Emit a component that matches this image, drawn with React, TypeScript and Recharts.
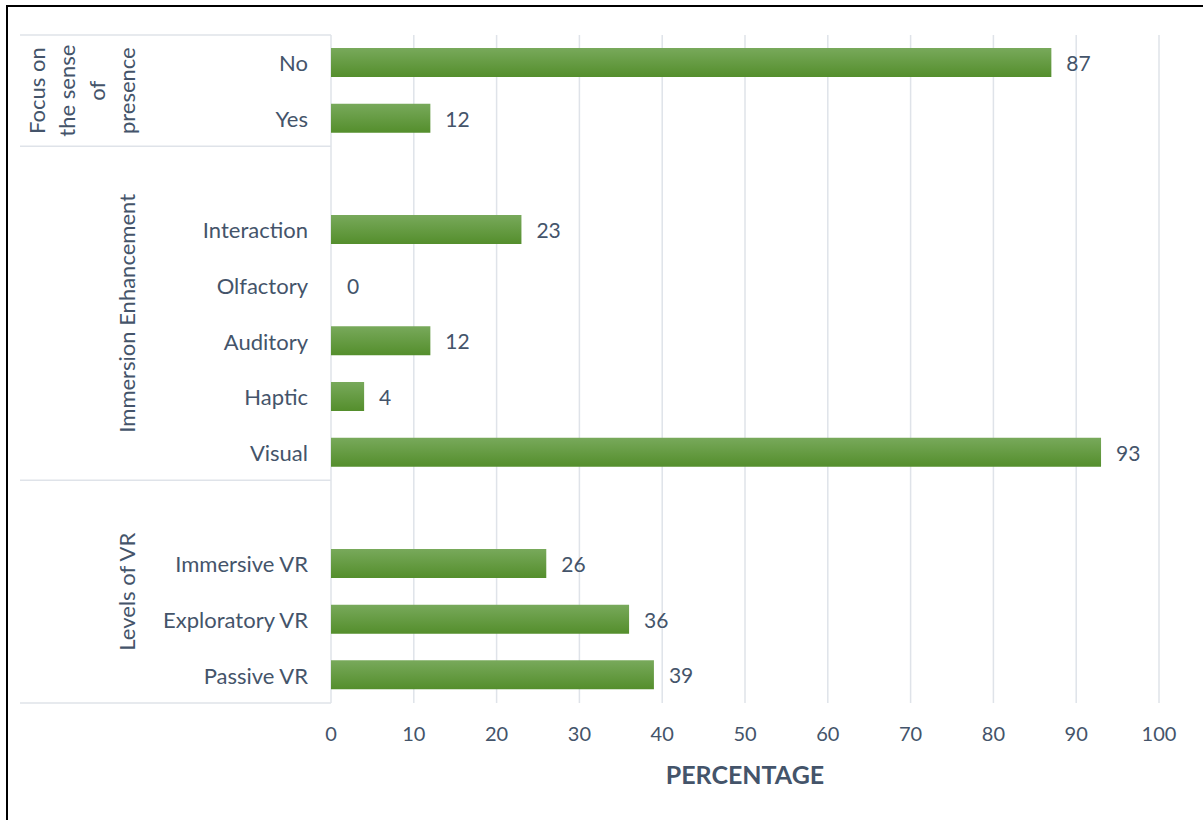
import React from 'react';
import { BarChart, Bar, Cell, XAxis, YAxis, CartesianGrid, LabelList } from 'recharts';

// slots top to bottom, '' = empty spacer slot between groups
const categories = ['No', 'Yes', '', 'Interaction', 'Olfactory', 'Auditory', 'Haptic', 'Visual', '', 'Immersive VR', 'Exploratory VR', 'Passive VR'];
const percentages = [87, 12, null, 23, 0, 12, 4, 93, null, 26, 36, 39];

const groupLabels = [['Focus on', 'the sense', 'of', 'presence'], ['Immersion Enhancement'], ['Levels of VR']];
const groupStarts = [0, 2, 8];
const groupEnds = [1, 7, 11];

const xTicks = [0, 10, 20, 30, 40, 50, 60, 70, 80, 90, 100];

const data = categories.map((name, i) => ({ key: `c${i}`, name, value: percentages[i] }));

const W = 1203;
const H = 820;
const PLOT_LEFT = 331;
const PLOT_TOP = 35;
const PLOT_RIGHT = 1159;
const PLOT_BOTTOM = 703;
const BAND = (PLOT_BOTTOM - PLOT_TOP) / categories.length;
const SEP_LEFT = 20;

const TEXT = '#44546a';
const GRID = '#dfe3e9';
const FONT = 'Lato, "Noto Sans", sans-serif';

const CategoryTick = (props: any) => {
  const { x, y, index } = props;
  const half = BAND / 2;
  const g = groupStarts.indexOf(index);
  const parts: React.ReactNode[] = [];

  if (g >= 0) {
    const groupMid = y - half + ((groupEnds[g] - groupStarts[g] + 1) * BAND) / 2;
    const lines = groupLabels[g];
    parts.push(
      <line key="sep" x1={SEP_LEFT} x2={PLOT_LEFT} y1={y - half} y2={y - half} stroke={GRID} strokeWidth={1.5} />
    );
    lines.forEach((ln, li) => {
      const lx = 127 - (lines.length - 1 - li) * 30;
      parts.push(
        <text
          key={`g${li}`}
          x={lx}
          y={groupMid}
          transform={`rotate(-90 ${lx} ${groupMid})`}
          textAnchor="middle"
          dominantBaseline="central"
          fontSize={22}
          fill={TEXT}
          fontFamily={FONT}
        >
          {ln}
        </text>
      );
    });
  }
  if (index === categories.length - 1) {
    parts.push(
      <line key="sepb" x1={SEP_LEFT} x2={PLOT_LEFT} y1={y + half} y2={y + half} stroke={GRID} strokeWidth={1.5} />
    );
  }

  return (
    <g>
      {parts}
      <text x={x} y={y} textAnchor="end" dominantBaseline="central" fontSize={22} fill={TEXT} fontFamily={FONT}>
        {categories[index]}
      </text>
    </g>
  );
};

const ValueLabel = (props: any) => {
  const { x, y, width, height, value } = props;
  if (value === null || value === undefined) return null;
  return (
    <text
      x={Number(x) + Number(width) + 15}
      y={Number(y) + Number(height) / 2}
      dominantBaseline="central"
      fontSize={21}
      fill={TEXT}
      fontFamily={FONT}
    >
      {value}
    </text>
  );
};

export default function App() {
  return (
    <div style={{ position: 'absolute', left: 0, top: 0, width: W, height: H, overflow: 'hidden', background: '#fff' }}>
      <div
        style={{
          position: 'absolute',
          left: 6,
          top: 5,
          width: W + 20,
          height: H + 20,
          border: '2px solid #000',
          boxSizing: 'border-box'
        }}
      />
      <div style={{ position: 'absolute', left: 0, top: 0 }}>
        <BarChart
          width={W}
          height={H}
          data={data}
          layout="vertical"
          margin={{ top: PLOT_TOP, right: W - PLOT_RIGHT, bottom: 0, left: 0 }}
          barSize={29}
        >
          <defs>
            <linearGradient id="barGreen" x1="0" y1="0" x2="0" y2="1">
              <stop offset="0%" stopColor="#78a95b" />
              <stop offset="100%" stopColor="#548e2c" />
            </linearGradient>
          </defs>
          <CartesianGrid horizontal={false} stroke={GRID} strokeWidth={1.5} />
          <XAxis
            type="number"
            domain={[0, 100]}
            ticks={xTicks}
            height={H - PLOT_BOTTOM}
            axisLine={false}
            tickLine={false}
            tickSize={0}
            tickMargin={24}
            tick={{ fontSize: 20, fill: TEXT, fontFamily: FONT }}
            label={{
              value: 'PERCENTAGE',
              position: 'insideBottom',
              offset: 36,
              fontSize: 25,
              fontWeight: 700,
              fill: TEXT,
              fontFamily: FONT
            }}
          />
          <YAxis
            type="category"
            dataKey="key"
            width={PLOT_LEFT}
            axisLine={false}
            tickLine={false}
            tickSize={0}
            tickMargin={23}
            interval={0}
            tick={<CategoryTick />}
          />
          <Bar dataKey="value" isAnimationActive={false} minPointSize={1}>
            {data.map((d) => (
              <Cell key={d.key} fill={d.value ? 'url(#barGreen)' : 'transparent'} />
            ))}
            <LabelList dataKey="value" content={<ValueLabel />} />
          </Bar>
        </BarChart>
      </div>
    </div>
  );
}
